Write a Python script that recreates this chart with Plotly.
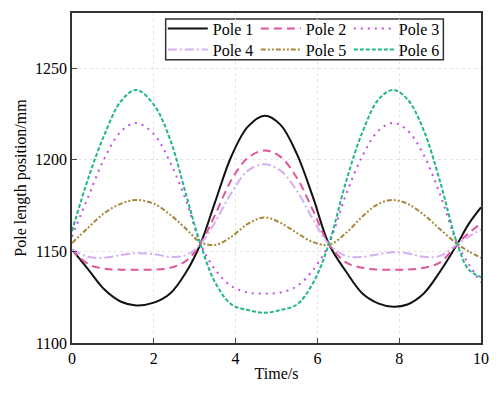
import plotly.graph_objects as go

# time samples (s)
t = [0, 0.4, 0.8, 1.2, 1.57, 2.0, 2.4, 2.8, 3.14, 3.5, 3.9, 4.3, 4.71, 5.1,
     5.5, 5.9, 6.28, 6.7, 7.1, 7.5, 7.85, 8.2, 8.6, 9.0, 9.42, 9.7, 10.0]

# pole length position (mm)
pole1 = [1151, 1140, 1129, 1122.5, 1120.5, 1122, 1127, 1139, 1154, 1177, 1202, 1218, 1224, 1219,
         1203, 1179, 1154, 1139, 1127, 1121.5, 1119.8, 1121, 1127, 1139, 1154, 1165, 1174]
pole2 = [1151, 1143, 1140.5, 1140, 1140, 1140, 1141, 1145, 1154, 1170, 1189, 1201, 1205, 1201.5,
         1190, 1172, 1154, 1144, 1141, 1140, 1140, 1140, 1141, 1144, 1154, 1160, 1165]
pole3 = [1158, 1180, 1201, 1215.5, 1220, 1214, 1198.5, 1177, 1154, 1140, 1131, 1127.5, 1127, 1127.5,
         1131, 1140, 1154, 1181, 1202, 1216, 1220, 1216, 1202.5, 1181, 1154, 1143, 1133]
pole4 = [1151, 1147, 1146.5, 1148, 1149, 1148.5, 1147, 1148, 1154, 1166, 1182, 1194, 1197.5, 1194,
         1183, 1167, 1154, 1147.5, 1147, 1148.5, 1149.5, 1149, 1147, 1147.5, 1154, 1158, 1162]
pole5 = [1154.5, 1163, 1171, 1176, 1178, 1176, 1170, 1162, 1155, 1153.5, 1158, 1165, 1168.5, 1165.5,
         1160, 1155, 1153.5, 1160, 1169, 1176, 1178, 1176, 1170, 1162, 1154, 1150, 1146.5]
pole6 = [1161, 1190, 1214, 1232, 1238, 1230, 1211, 1180, 1154, 1133, 1121, 1118, 1116.5, 1118,
         1121, 1133, 1154, 1188, 1215, 1233, 1238, 1233, 1216, 1188, 1154, 1140, 1136]

names = ['Pole 1', 'Pole 2', 'Pole 3', 'Pole 4', 'Pole 5', 'Pole 6']
series = [pole1, pole2, pole3, pole4, pole5, pole6]
colors = ['#111111', '#e0559a', '#c44fdc', '#d6aef2', '#a8863a', '#22b58e']
dashes = ['solid', '8px,5px', '2px,5px', '9px,3px,2px,3px', '5px,2px,2px,2px,2px,2px', '4px,2px']

FONT = 'Liberation Serif, Times New Roman, serif'
tfont = dict(family=FONT, size=16, color='black')

fig = go.Figure()
for i, (name, y) in enumerate(zip(names, series)):
    fig.add_trace(go.Scatter(
        x=t, y=y, name=name, mode='lines',
        line=dict(color=colors[i], width=2, dash=dashes[i], shape='spline', smoothing=1.0),
        legend='legend' if i < 3 else 'legend2',
    ))

# box round both legend rows
fig.add_shape(type='rect', xref='paper', yref='paper', x0=0.229, x1=0.908, y0=0.858, y1=0.982,
              line=dict(color='#333333', width=1.5), fillcolor='white', layer='below')

leg = dict(orientation='h', xanchor='left', yanchor='middle', x=0.222, bgcolor='rgba(0,0,0,0)',
           font=tfont, itemwidth=40, tracegroupgap=0, itemclick=False,
           entrywidth=38, entrywidthmode='pixels')
fig.update_layout(
    width=500, height=393,
    margin=dict(l=72, r=17, t=11, b=50),
    paper_bgcolor='white', plot_bgcolor='white',
    font=tfont,
    legend=dict(leg, y=0.953),
    legend2=dict(leg, y=0.889),
    showlegend=True,
)
fig.update_xaxes(range=[0, 10], dtick=2, tick0=0, ticks='inside', ticklen=5, tickwidth=1.2,
                 tickfont=tfont, showline=True, linecolor='#333333', linewidth=1.5, mirror=True,
                 showgrid=True, gridcolor='#e4e4e4', griddash='dot', gridwidth=1,
                 zeroline=False, title=dict(text='Time/s', font=tfont, standoff=2))
fig.update_yaxes(range=[1100, 1280], tickvals=[1100, 1150, 1200, 1250], ticks='inside', ticklen=5,
                 tickwidth=1.2, tickfont=tfont, showline=True, linecolor='#333333', linewidth=1.5,
                 mirror=True, showgrid=True, gridcolor='#e4e4e4', griddash='dot', gridwidth=1,
                 zeroline=False, title=dict(text='Pole length position/mm', font=tfont, standoff=4))

# drop the default 8px body margin so the figure sits at the window's corner
fig.write_html('out.html', config={'displayModeBar': False},
               post_script="document.body.style.margin='0';")
